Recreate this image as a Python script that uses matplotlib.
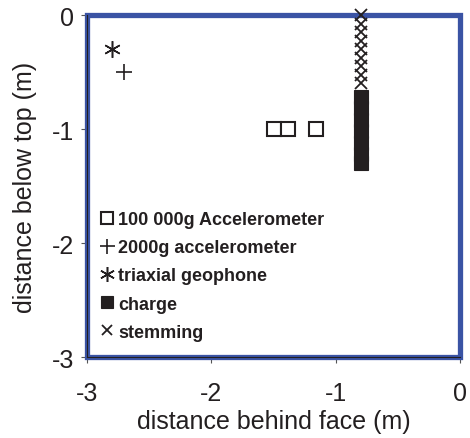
import matplotlib
matplotlib.use("Agg")
import matplotlib.pyplot as plt
from matplotlib.patches import Rectangle

plt.rcParams['font.family'] = ['Liberation Sans', 'DejaVu Sans']

# Data
acc100k_x = [-1.50, -1.38, -1.16]
acc100k_y = [-1.0, -1.0, -1.0]
acc2000_x = [-2.70]
acc2000_y = [-0.50]
geophone_x = [-2.80]
geophone_y = [-0.30]
charge_x = [-0.80, -0.80, -0.80, -0.80, -0.80, -0.80, -0.80]
charge_y = [-0.72, -0.82, -0.92, -1.02, -1.12, -1.22, -1.30]
stemming_x = [-0.80] * 9
stemming_y = [0.0, -0.075, -0.15, -0.225, -0.30, -0.375, -0.45, -0.525, -0.60]

xticks = [-3, -2, -1, 0]
yticks = [-3, -2, -1, 0]
legend_labels = ["100 000g Accelerometer", "2000g accelerometer",
                 "triaxial geophone", "charge", "stemming"]

fig = plt.figure(figsize=(4.70, 4.39), dpi=100)
ax = fig.add_axes([0.185, 0.1845, 0.794, 0.779])

blue = '#3A53A4'
ax.add_patch(Rectangle((0, 0), 1, 1, transform=ax.transAxes, fill=False,
                       edgecolor=blue, lw=3.8, clip_on=False, zorder=2))

ax.plot(acc100k_x, acc100k_y, ls='none', marker='s', ms=10, mfc='white',
        mec='#231f20', mew=1.5, label=legend_labels[0], zorder=3)
ax.plot(acc2000_x, acc2000_y, ls='none', marker='+', ms=12, mec='#231f20',
        mew=1.2, label=legend_labels[1], zorder=3)
ax.plot(geophone_x, geophone_y, ls='none', marker=(6, 2, 0), ms=12, mec='#231f20',
        mew=1.1, label=legend_labels[2], zorder=3)
ax.plot(charge_x, charge_y, ls='none', marker='s', ms=10, mfc='#231f20',
        mec='#231f20', mew=0.8, label=legend_labels[3], zorder=3)
ax.plot(stemming_x, stemming_y, ls='none', marker='x', ms=8, mec='#231f20',
        mew=1.3, label=legend_labels[4], zorder=4, clip_on=False)

ax.set_xlim(-3, 0)
ax.set_ylim(-3, 0)
ax.set_xticks(xticks)
ax.set_yticks(yticks)
ax.set_xticklabels([str(v) for v in xticks])
ax.set_yticklabels([str(v) for v in yticks])
for s in ['top', 'right']:
    ax.spines[s].set_visible(False)
for s in ['left', 'bottom']:
    ax.spines[s].set_color('#231f20')
    ax.spines[s].set_linewidth(0.8)
ax.tick_params(direction='out', length=4, width=0.8, color='#555555',
               labelsize=18, labelcolor='#231f20')
ax.tick_params(axis='x', pad=13)
ax.tick_params(axis='y', pad=5)
ax.set_xlabel('distance behind face (m)', fontsize=18, color='#231f20', labelpad=3)
ax.set_ylabel('distance below top (m)', fontsize=18, color='#231f20', labelpad=11)

leg = ax.legend(loc='lower left', bbox_to_anchor=(-0.008, 0.0), frameon=False,
                prop={'weight': 'bold', 'size': 13}, handlelength=0.7,
                handletextpad=0.3, labelspacing=0.62, borderaxespad=0.5,
                markerscale=0.9)
for t in leg.get_texts():
    t.set_color('#231f20')

fig.savefig('out.png', dpi=100)
